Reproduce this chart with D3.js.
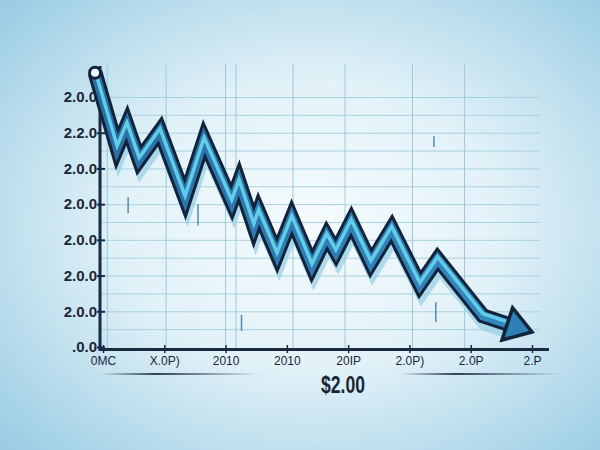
<!DOCTYPE html>
<html>
<head>
<meta charset="utf-8">
<script src="https://cdn.jsdelivr.net/npm/d3@7"></script>
<style>
  body { margin: 0; overflow: hidden; }
  svg { display: block; }
</style>
</head>
<body>
<svg id="chart"></svg>
<script>
var width = 600, height = 450

// values (x and y in axis units)
var yTickLabels = [".0.0", "2.0.0", "2.0.0", "2.0.0", "2.0.0", "2.0.0", "2.2.0", "2.0.0"]
var xTickLabels = ["0MC", "X.0P)", "2010", "2010", "20IP", "2.0P)", "2.0P", "2.P"]
var xGrid = [0.07, 1.03, 2.0, 2.17, 3.1, 3.95, 5.05, 5.9]
var seriesX = [-0.13, 0.23, 0.39, 0.59, 0.93, 1.34, 1.65, 2.10, 2.22, 2.46, 2.54, 2.84, 3.08, 3.41, 3.65, 3.80, 4.05, 4.37, 4.71, 5.17, 5.46, 6.20, 7.00]
var seriesY = [7.68, 5.57, 6.22, 5.24, 6.05, 4.17, 5.80, 4.06, 4.62, 3.39, 3.78, 2.58, 3.61, 2.27, 3.11, 2.66, 3.50, 2.35, 3.31, 1.74, 2.46, 0.87, 0.42]
var drips = [[0.41, 4.2, 0.45], [1.55, 4.0, 0.6], [2.26, 0.9, 0.45], [5.43, 1.25, 0.55], [5.4, 5.9, 0.3]]
var caption = "$2.00"

var svg = d3.select("#chart")
    .attr("width", width)
    .attr("height", height)

var defs = svg.append("defs")

var bg = defs.append("radialGradient")
    .attr("id", "bg")
    .attr("cx", "52%").attr("cy", "50%").attr("r", "70%")
bg.append("stop").attr("offset", "0%").attr("stop-color", "#f5fbfd")
bg.append("stop").attr("offset", "45%").attr("stop-color", "#e2f2f8")
bg.append("stop").attr("offset", "100%").attr("stop-color", "#9ccde4")

var ribbon = defs.append("linearGradient")
    .attr("id", "ribbon")
    .attr("x1", "0").attr("y1", "0").attr("x2", "1").attr("y2", "0")
ribbon.append("stop").attr("offset", "0%").attr("stop-color", "#2a6fa6")
ribbon.append("stop").attr("offset", "100%").attr("stop-color", "#3389c0")

var fade = defs.append("linearGradient").attr("id", "fadeL")
fade.append("stop").attr("offset", "0%").attr("stop-color", "#1d2f45").attr("stop-opacity", 0)
fade.append("stop").attr("offset", "35%").attr("stop-color", "#1d2f45").attr("stop-opacity", 0.9)
fade.append("stop").attr("offset", "100%").attr("stop-color", "#1d2f45").attr("stop-opacity", 0)

svg.append("rect")
    .attr("width", width)
    .attr("height", height)
    .attr("fill", "url(#bg)")

var x = d3.scaleLinear().domain([0, 7]).range([103, 532])
var y = d3.scaleLinear().domain([0, 7]).range([347, 97])

var g = svg.append("g")

// horizontal grid every half unit
g.selectAll(".hgrid")
    .data(d3.range(0.5, 7.5, 0.5))
    .enter()
    .append("line")
    .attr("x1", 100).attr("x2", 540)
    .attr("y1", d => y(d) + 0.5).attr("y2", d => y(d) + 0.5)
    .attr("stroke", "#a9d2e0")
    .attr("stroke-width", 1)

g.selectAll(".vgrid")
    .data(xGrid)
    .enter()
    .append("line")
    .attr("x1", d => x(d)).attr("x2", d => x(d))
    .attr("y1", 64).attr("y2", 348)
    .attr("stroke", "#9ccbdc")
    .attr("stroke-width", 1)

// small drip marks
g.selectAll(".drip")
    .data(drips)
    .enter()
    .append("line")
    .attr("x1", d => x(d[0])).attr("x2", d => x(d[0]))
    .attr("y1", d => y(d[1])).attr("y2", d => y(d[1] - d[2]))
    .attr("stroke", "#4f8fb0")
    .attr("stroke-width", 1.5)

// axes
var yAxis = d3.axisLeft(y)
    .tickValues(d3.range(0, 8))
    .tickSize(5)
    .tickFormat((d, i) => yTickLabels[i])
var ya = svg.append("g")
    .attr("transform", "translate(101,0)")
    .call(yAxis)
ya.select(".domain").remove()
ya.selectAll("line").attr("stroke", "#1a2a40").attr("stroke-width", 2).attr("x2", 4).attr("x1", -4)
ya.selectAll("text")
    .attr("x", -4)
    .attr("font-family", "Liberation Sans, Arial, sans-serif")
    .attr("font-weight", "bold")
    .attr("font-size", 15)
    .attr("fill", "#1b2636")

var xAxis = d3.axisBottom(x)
    .tickValues(d3.range(0, 8))
    .tickSize(5)
    .tickFormat((d, i) => xTickLabels[i])
var xa = svg.append("g")
    .attr("transform", "translate(0,349)")
    .call(xAxis)
xa.select(".domain").remove()
xa.selectAll("line").attr("stroke", "#1a2a40").attr("stroke-width", 1.5).attr("y1", -4).attr("y2", 4)
xa.selectAll("text")
    .attr("y", 7)
    .attr("font-family", "Liberation Sans, Arial, sans-serif")
    .attr("font-size", 12)
    .attr("fill", "#1b2636")

svg.append("line")
    .attr("x1", 100).attr("x2", 100)
    .attr("y1", 66).attr("y2", 351)
    .attr("stroke", "#1a2a40").attr("stroke-width", 3)
svg.append("line")
    .attr("x1", 99).attr("x2", 549)
    .attr("y1", 349.5).attr("y2", 349.5)
    .attr("stroke", "#1a2a40").attr("stroke-width", 3)

// line series with arrow head
var pts = seriesX.map((d, i) => [x(d), y(seriesY[i])])
var n = pts.length
var tip = pts[n - 1], prev = pts[n - 2]
var dx = tip[0] - prev[0], dy = tip[1] - prev[1]
var len = Math.sqrt(dx * dx + dy * dy)
var ux = dx / len, uy = dy / len
var headLen = 26, headW = 17
var base = [tip[0] - ux * headLen, tip[1] - uy * headLen]
var shaft = pts.slice(0, n - 1).concat([[base[0] + ux * 3, base[1] + uy * 3]])
var head = [
    [base[0] - uy * headW, base[1] + ux * headW],
    tip,
    [base[0] + uy * headW, base[1] - ux * headW]
]

var line = d3.line()

var plot = svg.append("g")

function ribbonPath(stroke, w, dy, op) {
    plot.append("path")
        .attr("d", line(shaft))
        .attr("transform", "translate(0," + dy + ")")
        .attr("fill", "none")
        .attr("stroke", stroke)
        .attr("stroke-width", w)
        .attr("stroke-linejoin", "miter")
        .attr("stroke-miterlimit", 10)
        .attr("opacity", op)
}

plot.append("path")
    .attr("d", line(shaft))
    .attr("transform", "translate(2,8)")
    .attr("fill", "none")
    .attr("stroke", "#9bd0e6")
    .attr("stroke-width", 14)
    .attr("stroke-linejoin", "miter")
    .attr("stroke-miterlimit", 10)
    .attr("opacity", 0.75)

ribbonPath("#13233a", 15, 0, 1)
ribbonPath("url(#ribbon)", 9, 0, 1)
ribbonPath("#62cde6", 3.5, -2.2, 1)

plot.append("path")
    .attr("d", line(head) + "Z")
    .attr("fill", "#2f80b8")
    .attr("stroke", "#13233a")
    .attr("stroke-width", 3.5)
    .attr("stroke-linejoin", "miter")

plot.append("circle")
    .attr("cx", pts[0][0])
    .attr("cy", pts[0][1])
    .attr("r", 5.5)
    .attr("fill", "#eef8fb")
    .attr("stroke", "#13233a")
    .attr("stroke-width", 3)

// caption with decorative rules
svg.append("rect")
    .attr("x", 100).attr("y", 373).attr("width", 160).attr("height", 2)
    .attr("fill", "url(#fadeL)")
svg.append("rect")
    .attr("x", 400).attr("y", 373).attr("width", 160).attr("height", 2)
    .attr("fill", "url(#fadeL)")

svg.append("text")
    .attr("x", 343)
    .attr("y", 393)
    .attr("text-anchor", "middle")
    .attr("font-family", "Liberation Sans, Arial, sans-serif")
    .attr("font-weight", "bold")
    .attr("font-size", 24)
    .attr("textLength", 44)
    .attr("lengthAdjust", "spacingAndGlyphs")
    .attr("fill", "#1b2636")
    .text(caption)
</script>
</body>
</html>
